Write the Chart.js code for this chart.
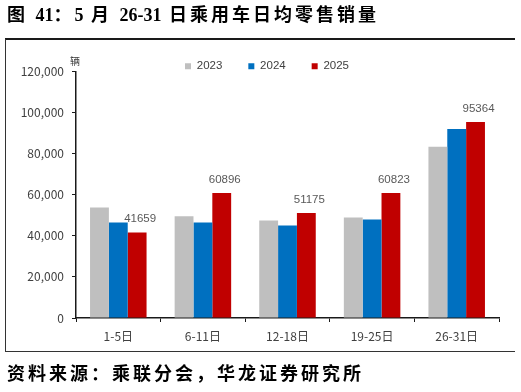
<!DOCTYPE html>
<html><head><meta charset="utf-8">
<script src="https://cdn.jsdelivr.net/npm/chart.js@4"></script>
<style>
html,body{margin:0;padding:0;background:#fff;width:521px;height:392px;overflow:hidden;}
#title{position:absolute;left:7px;top:5px;font-weight:bold;font-size:18px;font-family:"Liberation Serif","Noto Sans CJK SC";letter-spacing:3px;line-height:20px;color:#000;white-space:nowrap;}
#title .n{letter-spacing:0;}
#rule{position:absolute;left:5px;top:38px;width:510px;height:2px;background:#1a1a1a;}
#frameL{position:absolute;left:5px;top:39px;width:1px;height:313px;background:#333;}
#frameB{position:absolute;left:5px;top:351px;width:510px;height:1px;background:#333;}
#source{position:absolute;left:7px;top:364px;font-weight:bold;font-size:18px;font-family:"Liberation Serif","Noto Sans CJK SC";letter-spacing:3px;line-height:20px;color:#000;white-space:nowrap;}
#wrap{position:absolute;left:0;top:0;width:521px;height:392px;}
</style>
</head><body>
<div id="wrap"><canvas id="c" width="521" height="392"></canvas></div>
<div id="title">图 <span class="n">41</span>：<span class="n">5</span> 月 <span class="n">26-31</span> 日乘用车日均零售销量</div>
<div id="rule"></div>
<div id="frameL"></div>
<div id="frameB"></div>
<div id="source">资料来源：乘联分会，华龙证券研究所</div>
<script>
const categories = ['1-5日', '6-11日', '12-18日', '19-25日', '26-31日'];
const seriesNames = ['2023', '2024', '2025'];
const s2023 = [53800, 49500, 47500, 48900, 83400];
const s2024 = [46500, 46500, 45000, 48000, 92000];
const s2025 = [41659, 60896, 51175, 60823, 95364];
const yMin = 0, yMax = 120000, yStep = 20000;
const unitLabel = '辆';

const colors = ['#BFBFBF', '#0070C0', '#C00000'];
const cjk = '"Noto Sans CJK SC", sans-serif';

const legendShift = {
  id: 'legendShift',
  afterLayout(chart) {
    const l = chart.legend;
    if (!l) return;
    const dx = 17.5, dy = 10.5;
    l.left += dx; l.right += dx; l.top += dy; l.bottom += dy;
  }
};
const unitPlugin = {
  id: 'unitPlugin',
  afterDraw(chart) {
    const y = chart.scales.y, ctx = chart.ctx;
    ctx.save();
    ctx.font = '10px ' + cjk;
    ctx.fillStyle = '#404040';
    ctx.textAlign = 'center';
    ctx.textBaseline = 'middle';
    ctx.fillText(unitLabel, y.right - 1, y.top - 10);
    ctx.restore();
  }
};
const barLabels = {
  id: 'barLabels',
  afterDatasetsDraw(chart) {
    const ctx = chart.ctx;
    const meta = chart.getDatasetMeta(2);
    ctx.save();
    ctx.font = '11.5px "Liberation Sans", Arial, sans-serif';
    ctx.fillStyle = '#595959';
    ctx.textAlign = 'center';
    ctx.textBaseline = 'middle';
    meta.data.forEach((bar, i) => {
      ctx.fillText(String(s2025[i]), bar.x + 3, bar.y - 13.5);
    });
    ctx.restore();
  }
};

new Chart(document.getElementById('c'), {
  type: 'bar',
  data: {
    labels: categories,
    datasets: [s2023, s2024, s2025].map((d, i) => ({
      label: seriesNames[i],
      data: d,
      backgroundColor: colors[i],
      borderWidth: 0,
      categoryPercentage: 0.668,
      barPercentage: 1
    }))
  },
  options: {
    responsive: false,
    animation: false,
    devicePixelRatio: 1,
    layout: { padding: { left: 0, right: 22, top: 24, bottom: 0 } },
    plugins: {
      legend: {
        position: 'top',
        align: 'center',
        labels: {
          font: { family: '"Liberation Sans", Arial, sans-serif', size: 11.5 },
          color: '#404040',
          boxWidth: 6,
          boxHeight: 6,
          padding: 26
        }
      },
      tooltip: { enabled: false }
    },
    scales: {
      x: {
        afterFit(s) { s.height = 74; },
        border: { display: true, color: '#1a1a1a', width: 1.5 },
        grid: { display: true, drawOnChartArea: false, drawTicks: true, tickLength: 4, offset: true, color: '#1a1a1a', lineWidth: 1 },
        ticks: { font: { family: cjk, size: 12 }, color: '#404040', padding: 7, maxRotation: 0 }
      },
      y: {
        min: yMin, max: yMax,
        afterFit(s) { s.width = 76; },
        border: { display: true, color: '#1a1a1a', width: 1.5 },
        grid: { display: true, drawOnChartArea: false, drawTicks: true, tickLength: 4, color: '#1a1a1a', lineWidth: 1 },
        ticks: {
          stepSize: yStep,
          font: { family: cjk, size: 12 },
          color: '#404040',
          padding: 8,
          callback: v => v.toLocaleString('en-US')
        }
      }
    }
  },
  plugins: [legendShift, unitPlugin, barLabels]
});
</script>
</body></html>
